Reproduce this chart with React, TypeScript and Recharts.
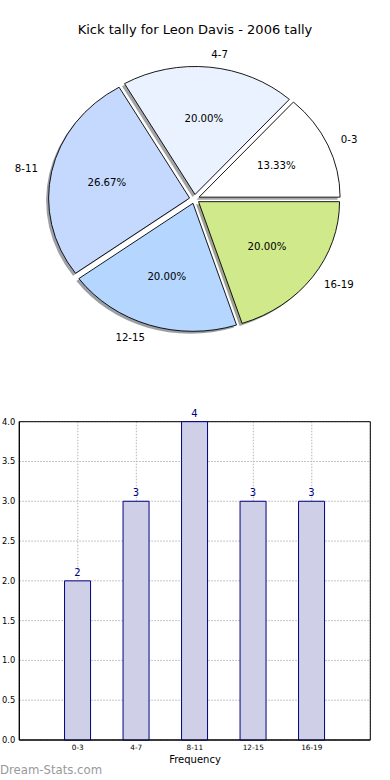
import {
  Bar,
  BarChart,
  CartesianGrid,
  LabelList,
  Pie,
  PieChart,
  XAxis,
  YAxis,
} from "recharts";

const CATEGORIES = ["0-3", "4-7", "8-11", "12-15", "16-19"];
const KICKS = [2, 3, 4, 3, 3];
const SLICE_COLORS = ["#ffffff", "#eaf2ff", "#c5d9ff", "#b4d6ff", "#cfe98b"];
const Y_TICKS = [0, 0.5, 1, 1.5, 2, 2.5, 3, 3.5, 4];

const FONT = "'DejaVu Sans', Verdana, sans-serif";
const RX = 141;
const SQUASH = 128 / 141; // the pie is drawn a bit wider than tall
const EXPLODE = 5;
const SHADOW = { dx: -2.5, dy: 2.5 };

const rows = CATEGORIES.map((range, i) => ({ range, kicks: KICKS[i] }));

const rad = (a: number) => (a * Math.PI) / 180;

// wedge centre after exploding it along its mid angle
const wedgeOrigin = (cx: number, cy: number, mid: number) => ({
  x: cx + EXPLODE * Math.cos(rad(mid)),
  y: cy - EXPLODE * SQUASH * Math.sin(rad(mid)),
});

const wedgePath = (x0: number, y0: number, rx: number, ry: number, a0: number, a1: number) => {
  const p0 = [x0 + rx * Math.cos(rad(a0)), y0 - ry * Math.sin(rad(a0))];
  const p1 = [x0 + rx * Math.cos(rad(a1)), y0 - ry * Math.sin(rad(a1))];
  const large = a1 - a0 > 180 ? 1 : 0;
  return `M${x0},${y0} L${p0[0]},${p0[1]} A${rx},${ry} 0 ${large} 0 ${p1[0]},${p1[1]} Z`;
};

const shadowFill = (hex: string) => {
  const n = parseInt(hex.slice(1), 16);
  const c = [(n >> 16) & 255, (n >> 8) & 255, n & 255].map((v) => Math.round(v * 0.3));
  return `rgb(${c.join(",")})`;
};

function ShadowLabel(props: any) {
  const { cx, cy, outerRadius, startAngle, endAngle, index } = props;
  const mid = (startAngle + endAngle) / 2;
  const o = wedgeOrigin(cx, cy, mid);
  return (
    <path
      d={wedgePath(o.x + SHADOW.dx, o.y + SHADOW.dy, outerRadius, outerRadius * SQUASH, startAngle, endAngle)}
      fill={shadowFill(SLICE_COLORS[index])}
      fillOpacity={0.5}
      stroke="none"
    />
  );
}

function WedgeLabel(props: any) {
  const { cx, cy, outerRadius, startAngle, endAngle, index, percent } = props;
  const mid = (startAngle + endAngle) / 2;
  const o = wedgeOrigin(cx, cy, mid);
  const ry = outerRadius * SQUASH;
  const cos = Math.cos(rad(mid));
  const sin = Math.sin(rad(mid));
  return (
    <g>
      <path
        d={wedgePath(o.x, o.y, outerRadius, ry, startAngle, endAngle)}
        fill={SLICE_COLORS[index]}
        stroke="#000"
        strokeWidth={0.9}
        strokeLinejoin="round"
      />
      <text
        x={o.x + 0.6 * outerRadius * cos}
        y={o.y - 0.6 * ry * sin}
        textAnchor="middle"
        dominantBaseline="central"
        fontFamily={FONT}
        fontSize={10.2}
        fill="#000"
      >
        {`${(percent * 100).toFixed(2)}%`}
      </text>
      <text
        x={o.x + 1.1 * outerRadius * cos}
        y={o.y - 1.1 * ry * sin}
        textAnchor={cos >= 0 ? "start" : "end"}
        dominantBaseline="central"
        fontFamily={FONT}
        fontSize={10.2}
        fill="#000"
      >
        {CATEGORIES[index]}
      </text>
    </g>
  );
}

export default function App() {
  return (
    <div
      style={{
        position: "absolute",
        left: 0,
        top: 0,
        width: 390,
        height: 780,
        background: "#fff",
        fontFamily: FONT,
        overflow: "hidden",
      }}
    >
      <div
        style={{
          position: "absolute",
          top: 22,
          width: 390,
          textAlign: "center",
          fontSize: 13,
          lineHeight: "16px",
          color: "#000",
        }}
      >
        Kick tally for Leon Davis - 2006 tally
      </div>

      <div style={{ position: "absolute", top: 0, left: 0 }}>
        <PieChart width={390} height={360} margin={{ top: 0, right: 0, bottom: 0, left: 0 }}>
          <Pie
            data={rows}
            dataKey="kicks"
            nameKey="range"
            cx={194.5}
            cy={199}
            outerRadius={RX}
            startAngle={0}
            endAngle={360}
            fill="none"
            stroke="none"
            labelLine={false}
            label={ShadowLabel}
            isAnimationActive={false}
          />
          <Pie
            data={rows}
            dataKey="kicks"
            nameKey="range"
            cx={194.5}
            cy={199}
            outerRadius={RX}
            startAngle={0}
            endAngle={360}
            fill="none"
            stroke="none"
            labelLine={false}
            label={WedgeLabel}
            isAnimationActive={false}
          />
        </PieChart>
      </div>

      <div style={{ position: "absolute", top: 390, left: 0 }}>
        <BarChart
          width={390}
          height={390}
          data={rows}
          margin={{ top: 31.7, right: 19.7, bottom: 20, left: 0 }}
        >
          <CartesianGrid stroke="#b4b4b4" strokeDasharray="1.5 1.5" />
          {/* solid frame round the plot area */}
          <CartesianGrid
            stroke="#000"
            strokeWidth={1}
            horizontalCoordinatesGenerator={({ offset }: any) => [offset.top, offset.top + offset.height]}
            verticalCoordinatesGenerator={({ offset }: any) => [offset.left, offset.left + offset.width]}
          />
          <XAxis
            dataKey="range"
            padding={{ left: 29.25, right: 29.25 }}
            height={20}
            tickSize={4}
            tickMargin={1}
            tickLine={false}
            axisLine={{ stroke: "#000" }}
            tick={{ fontSize: 7.3, fontFamily: FONT, fill: "#000" }}
            interval={0}
          />
          <YAxis
            domain={[0, 4]}
            ticks={Y_TICKS}
            width={19.3}
            tickSize={4}
            tickMargin={0}
            tickLine={false}
            axisLine={{ stroke: "#000" }}
            tickFormatter={(v) => Number(v).toFixed(1)}
            tick={{ fontSize: 8.3, fontFamily: FONT, fill: "#000" }}
            interval={0}
          />
          <Bar
            dataKey="kicks"
            barSize={26}
            fill="#cfd0e8"
            stroke="#000080"
            strokeWidth={1}
            isAnimationActive={false}
          >
            <LabelList
              dataKey="kicks"
              position="top"
              offset={5}
              fontSize={10}
              fontFamily={FONT}
              fill="#000080"
            />
          </Bar>
        </BarChart>
      </div>

      <div
        style={{
          position: "absolute",
          top: 754,
          width: 390,
          textAlign: "center",
          fontSize: 10,
          lineHeight: "12px",
          color: "#000",
        }}
      >
        Frequency
      </div>
      <div
        style={{
          position: "absolute",
          top: 763,
          left: 0,
          fontSize: 11.7,
          lineHeight: "14px",
          color: "#999",
        }}
      >
        Dream-Stats.com
      </div>
    </div>
  );
}
